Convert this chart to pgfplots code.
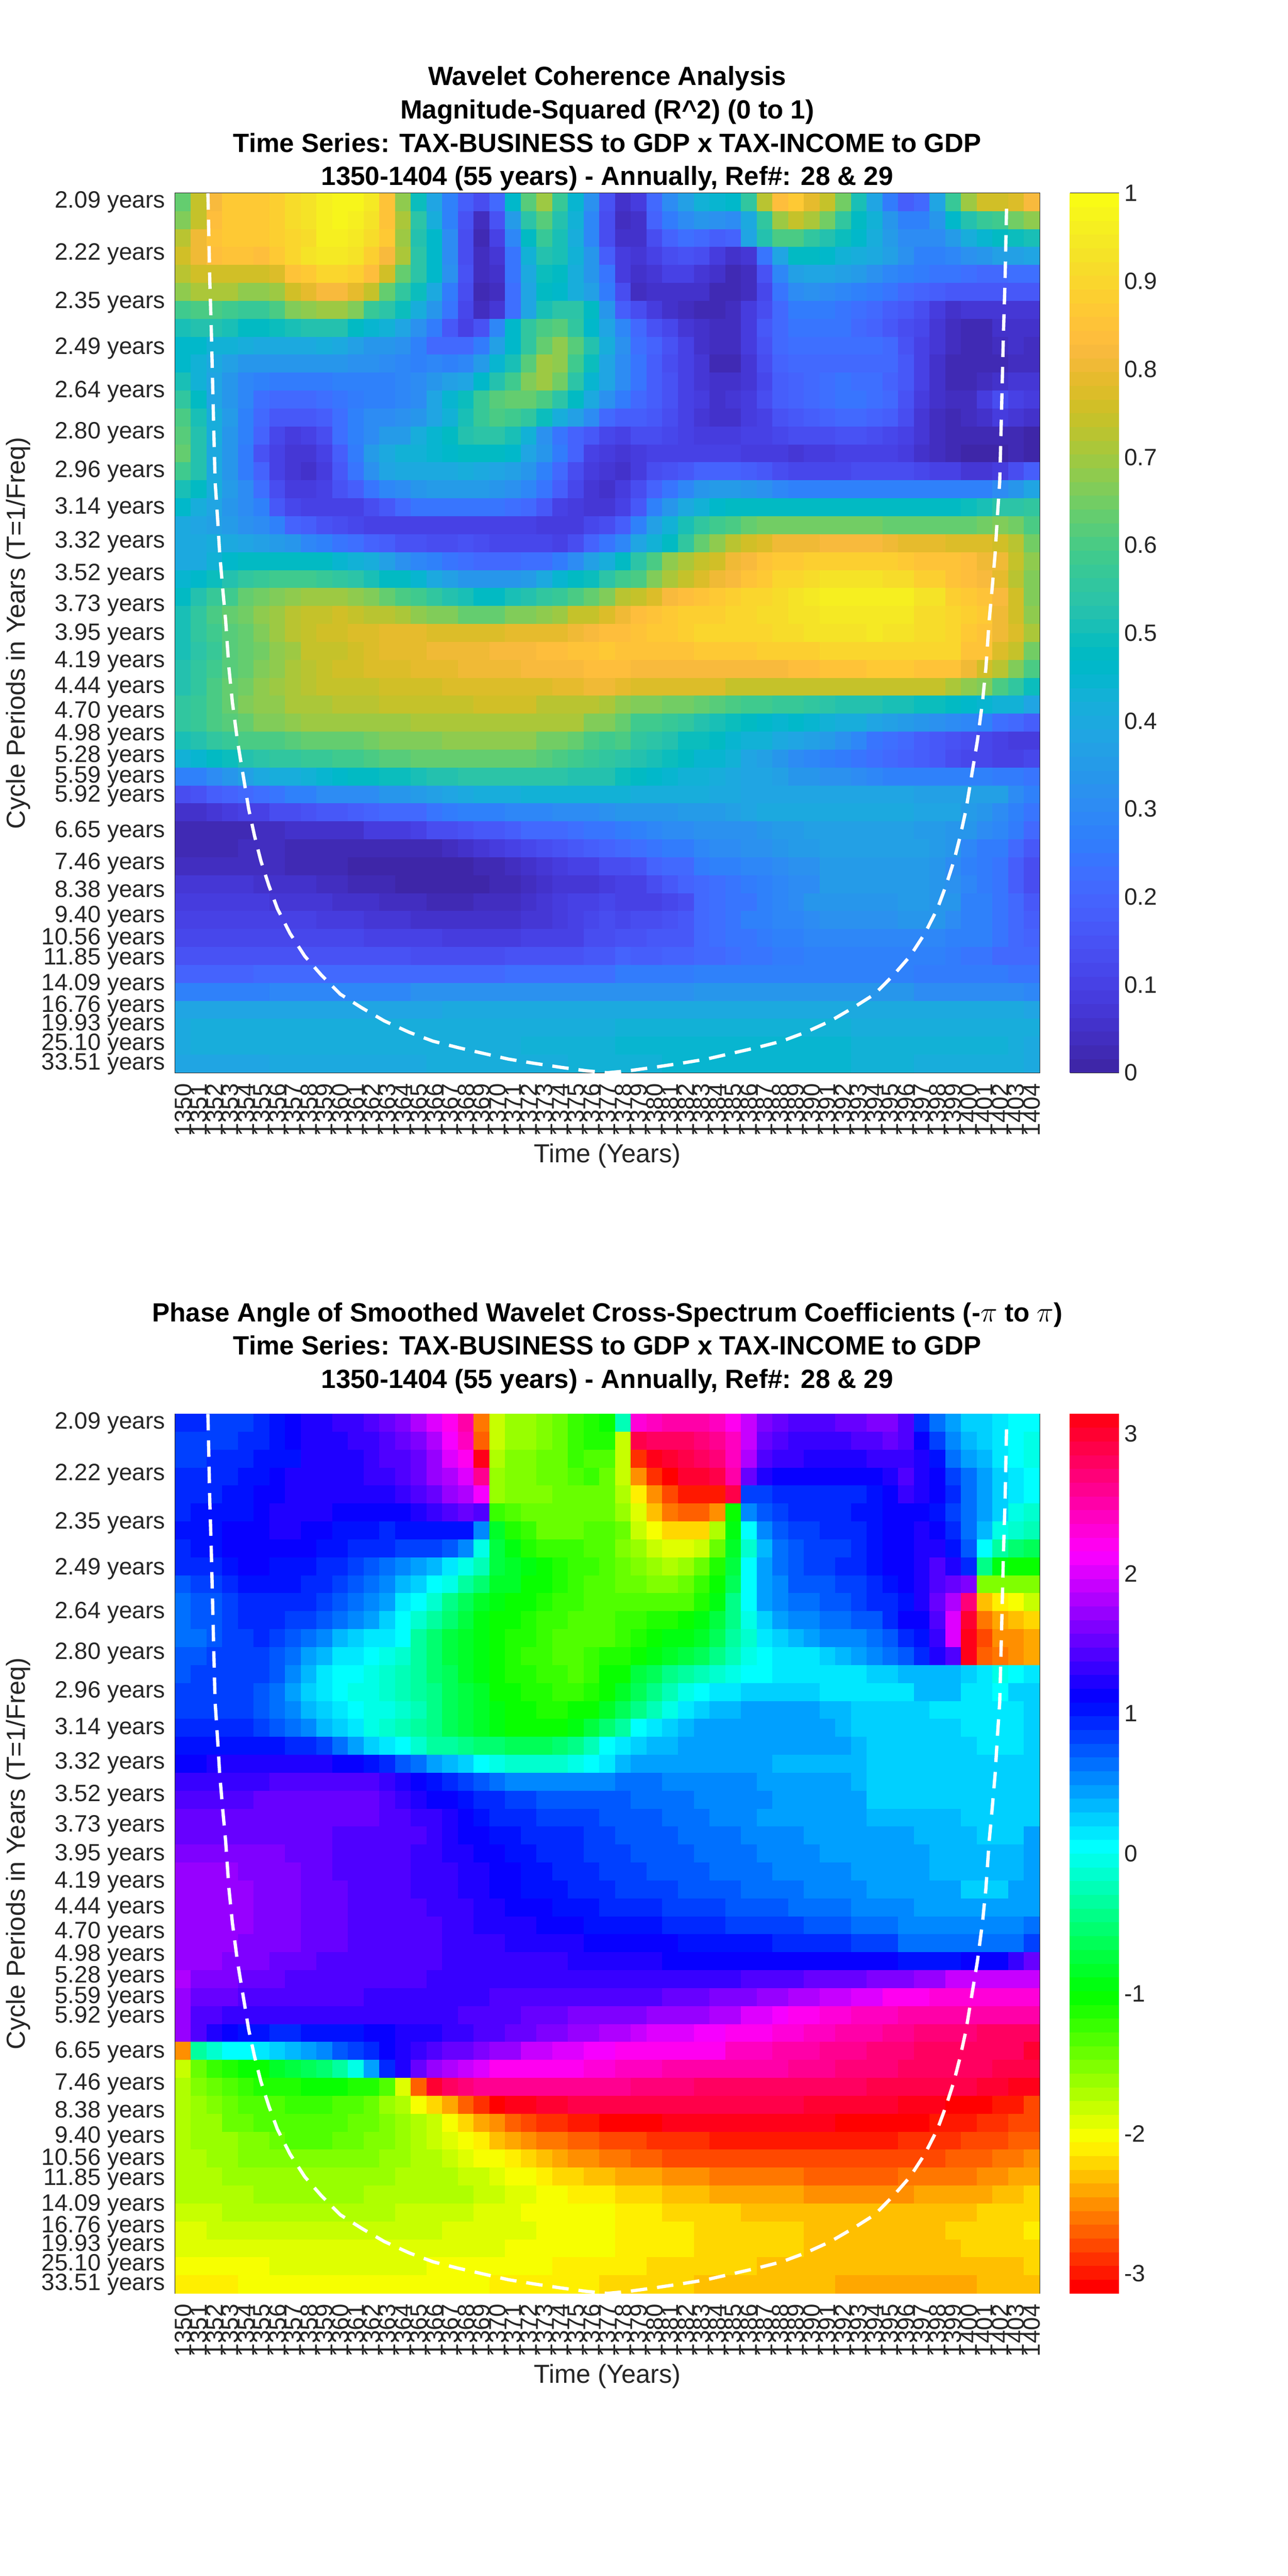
\documentclass[border=0pt]{standalone}
\usepackage{pgfplots}
\pgfplotsset{compat=1.18}
\usepackage{pgfplotstable}
\usepackage{fontspec}
\setmainfont{Liberation Sans}
\definecolor{axc}{RGB}{38,38,38}
\pgfdeclareplotmark{cell}{\pgfpathrectangle{\pgfqpoint{-4.85pt}{-5.53pt}}{\pgfqpoint{9.70pt}{11.06pt}}\pgfusepathqfill}
\pgfdeclareplotmark{bcell}{\pgfpathrectangle{\pgfqpoint{-15pt}{-4.25pt}}{\pgfqpoint{30pt}{8.5pt}}\pgfusepathqfill}
\pgfplotsset{
 colormap={par}{rgb=(.2422,.1504,.6603) rgb=(.2504,.1650,.7076) rgb=(.2578,.1818,.7511) rgb=(.2647,.1978,.7952) rgb=(.2706,.2147,.8364) rgb=(.2751,.2342,.8710) rgb=(.2783,.2559,.8991) rgb=(.2803,.2782,.9221) rgb=(.2813,.3006,.9414) rgb=(.2810,.3228,.9579) rgb=(.2795,.3447,.9717) rgb=(.2760,.3667,.9829) rgb=(.2699,.3892,.9906) rgb=(.2602,.4123,.9952) rgb=(.2440,.4358,.9988) rgb=(.2206,.4603,.9973) rgb=(.1963,.4847,.9892) rgb=(.1834,.5074,.9798) rgb=(.1786,.5289,.9682) rgb=(.1764,.5499,.9520) rgb=(.1687,.5703,.9359) rgb=(.1540,.5902,.9218) rgb=(.1460,.6091,.9079) rgb=(.1380,.6276,.8973) rgb=(.1248,.6459,.8883) rgb=(.1113,.6635,.8763) rgb=(.0952,.6798,.8598) rgb=(.0689,.6948,.8394) rgb=(.0297,.7082,.8163) rgb=(.0036,.7203,.7917) rgb=(.0067,.7312,.7660) rgb=(.0433,.7411,.7394) rgb=(.0964,.7500,.7120) rgb=(.1408,.7584,.6842) rgb=(.1717,.7670,.6554) rgb=(.1938,.7758,.6251) rgb=(.2161,.7843,.5923) rgb=(.2470,.7918,.5567) rgb=(.2906,.7973,.5188) rgb=(.3406,.8008,.4789) rgb=(.3909,.8029,.4354) rgb=(.4456,.8024,.3909) rgb=(.5044,.7993,.3480) rgb=(.5616,.7942,.3045) rgb=(.6174,.7876,.2612) rgb=(.6720,.7793,.2227) rgb=(.7242,.7698,.1910) rgb=(.7738,.7598,.1646) rgb=(.8203,.7498,.1535) rgb=(.8634,.7406,.1596) rgb=(.9035,.7330,.1774) rgb=(.9393,.7288,.2100) rgb=(.9728,.7298,.2394) rgb=(.9956,.7434,.2371) rgb=(.9970,.7659,.2199) rgb=(.9952,.7893,.2028) rgb=(.9892,.8136,.1885) rgb=(.9786,.8386,.1766) rgb=(.9676,.8639,.1643) rgb=(.9610,.8890,.1537) rgb=(.9597,.9135,.1423) rgb=(.9628,.9373,.1265) rgb=(.9691,.9606,.1064) rgb=(.9769,.9839,.0805)},
 colormap={hsvm}{rgb(0cm)=(1,0,0); rgb(1cm)=(1,1,0); rgb(2cm)=(0,1,0); rgb(3cm)=(0,1,1); rgb(4cm)=(0,0,1); rgb(5cm)=(1,0,1); rgb(6cm)=(1,0,0)},
 heat/.style={scale only axis,width=524.5pt,height=533.6pt,xmin=1349.5,xmax=1404.5,ymin=-0.5,ymax=48.5,y dir=reverse,
  axis on top,axis line style={axc,line width=.5pt},
  tick style={axc,line width=.5pt},tick align=inside,major tick length=5.2pt,
  tick label style={font=\fontsize{14.35}{14.35}\selectfont,text=axc},
  label style={font=\fontsize{15.8}{15.8}\selectfont,text=axc},
  xtick={1350,...,1404},
  xticklabels={1350,1351,1352,1353,1354,1355,1356,1357,1358,1359,1360,1361,1362,1363,1364,1365,1366,1367,1368,1369,1370,1371,1372,1373,1374,1375,1376,1377,1378,1379,1380,1381,1382,1383,1384,1385,1386,1387,1388,1389,1390,1391,1392,1393,1394,1395,1396,1397,1398,1399,1400,1401,1402,1403,1404},
  xticklabel style={yshift=-3pt,rotate=90,anchor=east},
  yticklabel style={xshift=-2.5pt},
  ytick={0,2.874,5.586,8.146,10.562,12.844,14.996,17.028,18.946,20.756,22.465,24.078,25.6,27.037,28.393,29.673,30.881,32.022,33.098,34.114,35.073,35.978,36.833,37.639,38.4,39.118,39.797,40.437,41.04,41.611,42.149,42.657,43.136,43.589,44.016,44.42,44.8,45.159,45.498,45.818,46.12,46.406,46.675,46.928,47.168,47.394,47.608,47.81,48},
  yticklabels={2.09 years,2.22 years,2.35 years,2.49 years,2.64 years,2.80 years,2.96 years,3.14 years,3.32 years,3.52 years,3.73 years,3.95 years,4.19 years,4.44 years,4.70 years,4.98 years,5.28 years,5.59 years,5.92 years,,6.65 years,,7.46 years,,8.38 years,,9.40 years,,10.56 years,,11.85 years,,,14.09 years,,,16.76 years,,,19.93 years,,,,25.10 years,,,,,33.51 years},
  xlabel={Time (Years)},ylabel={Cycle Periods in Years (T=1/Freq)},
  xlabel style={at={(axis description cs:0.5,-0.0942)},anchor=center},
  ylabel style={at={(axis description cs:-0.1816,0.5)},anchor=center},
 },
 over/.style={scale only axis,width=524.5pt,height=533.6pt,xmin=1349.5,xmax=1404.5,ymin=-0.5,ymax=48.5,y dir=reverse,hide axis},
 scat/.style={scatter,only marks,mark=cell,point meta=explicit,forget plot},
 coi/.style={white,line width=2pt,dash pattern=on 10pt off 6pt,forget plot},
 cb/.style={scale only axis,width=29pt,height=533.6pt,xmin=0,xmax=1,xtick=\empty,axis on top,axis line style={axc,line width=.5pt},
  ytick pos=right,yticklabel pos=right,tick align=inside,tick style={axc,line width=.5pt},major tick length=5.2pt,
  tick label style={font=\fontsize{14.35}{14.35}\selectfont,text=axc}},
}
% coherence R^2 and phase angle, as the level (0-63) of the 64-step colour scale
\pgfplotstableread[header=false]{
40 47 52 55 55 55 56 58 59 61 62 62 60 54 43 31 24 17 11 8 13 29 39 44 36 28 20 9 3 5 13 19 23 27 28 29 35 46 53 55 50 47 41 32 24 16 11 13 24 36 44 48 48 49 52
42 47 53 55 55 55 56 58 59 61 62 61 59 54 45 34 26 17 9 2 9 22 34 39 33 27 18 8 2 3 12 16 19 21 20 19 25 35 44 47 45 41 35 30 27 21 17 17 21 29 33 36 37 41 43
46 51 54 55 55 55 56 57 58 61 61 60 58 55 44 33 29 19 8 1 6 18 30 36 32 26 18 8 3 3 8 12 14 13 11 12 24 33 38 38 35 33 31 29 26 22 19 19 19 22 26 28 30 31 32
48 51 53 54 54 53 55 57 59 60 60 59 56 52 45 34 29 19 8 2 4 15 27 33 32 27 21 11 5 4 6 8 9 8 5 3 4 15 24 30 30 29 27 26 25 23 20 17 17 18 20 21 23 23 24
46 48 48 48 48 48 49 54 55 57 57 56 53 48 40 34 29 20 9 2 3 15 25 31 30 26 21 15 5 3 4 6 6 4 3 1 2 9 18 23 24 24 23 22 20 18 17 16 15 15 14 13 13 14 14
43 45 45 45 43 43 44 48 50 52 52 50 47 40 35 31 25 16 8 1 2 14 24 30 29 26 23 16 8 2 3 3 3 3 1 1 2 7 15 19 20 19 18 17 16 15 13 12 11 10 10 10 10 10 10
37 38 38 37 36 36 38 42 43 44 44 42 36 34 31 26 21 15 7 2 4 14 24 32 34 34 30 21 11 8 5 3 2 1 1 2 5 8 13 16 16 16 15 14 13 11 10 8 5 3 4 4 4 4 4
32 33 33 32 30 30 31 32 33 33 33 30 28 27 24 20 16 10 6 9 18 29 35 38 39 35 29 24 18 13 9 7 4 3 2 2 5 10 13 15 15 15 15 13 12 10 8 7 4 2 1 1 3 3 3
29 29 27 27 26 25 25 25 25 26 25 23 21 21 20 17 13 13 13 16 23 29 35 40 43 39 33 26 20 14 12 9 6 3 2 2 5 9 13 14 14 14 14 14 14 13 9 6 4 2 1 1 2 3 2
29 27 25 23 21 21 21 21 21 21 21 20 20 19 18 17 18 17 18 22 28 32 39 44 43 37 31 24 19 15 11 8 6 4 1 1 4 8 12 13 13 13 13 13 13 13 10 6 3 1 1 1 1 2 2
32 27 24 21 18 17 16 16 16 16 17 17 17 17 18 19 21 23 24 29 33 37 42 44 41 34 28 24 19 15 11 9 6 4 3 3 4 7 11 12 13 14 15 14 14 12 10 6 3 1 1 2 3 4 4
35 30 24 21 18 14 13 13 13 14 15 16 17 17 18 19 24 28 31 36 39 40 40 38 34 30 25 20 16 13 11 9 6 5 3 4 5 8 11 12 13 14 15 15 14 13 9 5 3 2 2 5 8 6 5
38 32 26 22 17 13 10 10 10 11 14 17 19 19 20 21 24 27 32 36 38 37 35 31 26 23 19 13 11 11 10 8 6 4 3 3 5 6 9 10 11 12 13 13 12 11 8 4 2 1 2 3 5 4 3
39 33 26 21 17 12 7 5 6 8 14 17 19 22 22 26 28 30 33 34 34 32 27 20 15 12 10 7 6 8 8 7 6 5 5 5 6 6 7 8 8 8 9 9 8 7 6 4 2 1 1 1 1 1 0
40 33 25 21 16 9 6 4 4 6 11 16 22 25 27 27 28 29 30 30 30 29 24 21 16 12 6 5 4 5 6 6 6 6 6 6 5 5 5 4 5 5 6 6 6 6 5 3 2 1 0 0 0 1 0
37 33 25 21 16 12 6 4 3 5 10 15 20 24 25 25 25 25 26 25 24 23 21 17 13 8 5 4 3 5 8 9 10 12 12 12 11 10 8 7 7 7 7 8 8 8 8 7 6 6 4 4 5 8 11
32 30 26 22 19 14 8 5 5 6 9 11 15 18 19 21 22 22 22 22 21 20 18 15 11 7 4 3 5 8 12 15 18 21 22 22 21 20 18 17 17 17 17 17 17 17 17 17 17 17 17 17 19 21 24
29 26 24 21 19 17 10 7 6 6 6 6 8 10 13 15 15 15 15 15 15 14 13 10 6 5 4 4 6 10 17 21 25 27 29 30 30 30 30 30 30 30 30 30 30 30 30 30 30 30 31 32 34 34 35
25 24 23 22 20 19 17 12 11 9 8 7 6 6 6 6 6 6 6 6 6 6 6 5 5 5 7 8 11 17 23 27 32 35 37 38 40 41 41 41 41 41 41 41 41 40 40 40 40 40 40 41 42 41 38
25 25 26 25 24 23 22 21 18 17 15 14 12 11 9 9 8 8 9 8 7 7 7 7 6 8 12 15 18 24 27 30 35 40 43 46 48 49 51 51 51 52 52 52 52 51 50 50 50 49 49 49 48 46 41
25 25 27 29 30 30 30 30 30 30 28 27 26 23 20 18 17 15 14 13 13 13 14 14 16 19 23 26 30 34 38 43 45 47 48 51 52 54 55 55 56 56 56 56 56 56 55 54 54 54 53 51 51 47 43
28 29 31 33 35 36 37 37 37 36 35 34 32 30 30 28 25 23 21 21 21 21 22 25 28 30 31 34 37 38 42 45 47 49 51 52 54 55 57 57 58 59 59 59 59 58 58 56 56 54 53 52 50 46 42
30 33 36 37 40 41 42 43 44 44 44 43 42 40 38 37 35 33 32 30 30 32 33 35 36 38 40 42 46 47 49 52 53 54 55 56 57 57 58 59 60 61 61 61 61 61 61 59 59 56 55 54 52 48 42
32 35 38 40 41 43 44 46 47 47 48 47 46 46 45 43 42 42 40 40 40 42 42 43 44 47 47 49 51 53 54 55 56 56 56 57 57 58 58 59 59 60 60 60 60 60 60 58 58 57 56 55 51 48 43
32 35 37 39 40 42 44 46 47 48 48 49 49 50 50 50 49 49 49 49 49 50 50 50 50 51 52 53 53 54 55 55 56 57 57 57 57 57 58 58 59 59 59 59 60 59 59 58 58 57 55 54 51 49 45
32 34 36 39 40 41 43 44 47 47 47 48 49 50 50 50 51 51 51 51 52 52 52 53 53 54 54 55 54 54 54 54 54 55 55 55 55 56 56 56 56 57 57 57 57 57 57 57 57 57 54 54 49 47 41
33 35 37 39 40 42 43 45 46 47 48 48 49 49 49 50 50 50 51 51 51 51 52 52 52 52 53 53 53 52 52 52 52 52 52 52 52 52 52 53 53 54 54 54 55 55 55 54 54 54 51 48 46 42 38
33 35 38 40 41 43 44 45 46 47 47 47 47 48 48 48 48 49 49 49 49 49 49 49 50 50 51 51 50 49 49 49 49 49 49 47 47 47 47 47 47 47 47 47 47 47 47 47 47 45 43 42 38 35 31
35 36 38 40 42 43 43 45 45 45 46 46 46 47 47 47 47 47 47 48 48 48 48 46 46 46 46 45 43 42 42 41 41 40 39 38 37 37 36 36 35 34 33 33 33 32 32 31 31 30 29 28 27 27 24
35 36 38 39 40 42 42 43 44 44 44 44 44 44 44 45 45 45 45 45 45 45 45 45 45 45 42 42 40 37 37 36 35 33 32 31 30 29 28 29 28 27 26 26 24 23 22 21 20 19 18 17 14 13 11
32 33 35 36 38 38 38 39 40 40 40 40 41 42 42 42 42 43 43 43 43 43 43 41 41 40 38 37 38 35 34 33 31 31 30 28 27 27 25 24 23 22 20 18 15 14 13 11 10 9 8 7 6 5 5
27 28 30 31 33 34 35 35 36 36 37 37 38 39 39 40 40 40 40 40 40 40 40 39 38 37 36 35 34 33 32 31 30 28 28 27 24 23 21 19 18 17 16 15 14 13 12 11 10 8 7 7 6 6 7
17 17 19 21 23 25 26 26 27 28 29 30 30 31 31 32 33 33 34 34 34 34 34 34 34 33 33 33 31 30 29 28 27 27 26 25 24 24 23 21 21 20 20 19 18 17 17 17 17 17 17 17 16 16 15
8 9 11 12 13 14 15 17 17 19 19 19 19 21 21 22 23 24 25 26 26 26 27 27 27 27 27 27 27 26 26 26 26 26 25 25 24 24 24 24 24 24 24 24 24 24 24 23 23 23 23 23 23 19 17
3 3 4 5 6 6 8 8 9 10 10 11 12 13 13 13 15 16 17 17 17 18 18 18 19 19 19 20 21 21 21 21 22 22 22 23 24 25 25 25 25 25 25 25 25 25 25 24 24 24 22 21 19 17 15
1 1 1 1 1 2 2 3 3 3 3 3 5 5 5 6 8 8 9 10 10 11 13 13 13 14 15 15 16 17 18 19 19 20 20 20 20 21 22 22 23 23 23 23 23 23 23 22 22 21 21 19 18 16 13
1 1 1 1 2 2 2 1 1 1 1 1 1 1 1 1 1 2 3 4 5 6 7 8 9 10 11 12 13 14 15 16 16 18 19 19 20 20 21 22 22 23 23 23 23 23 23 23 22 21 18 16 16 13 10
2 2 2 2 2 2 2 1 1 1 1 0 0 0 0 0 0 0 0 1 1 2 3 4 5 6 6 8 8 9 12 13 13 16 17 17 18 18 19 20 20 22 22 22 22 22 22 22 21 19 17 16 15 11 8
4 4 4 4 4 3 3 3 3 2 2 1 1 1 0 0 0 0 0 0 1 1 2 3 4 4 4 5 6 6 8 10 12 13 14 15 16 17 18 19 19 22 22 22 22 22 22 22 21 20 18 16 15 11 8
5 5 5 5 5 5 4 4 4 4 3 3 3 2 2 2 1 1 1 2 2 2 3 4 5 6 6 7 6 6 6 7 8 13 14 15 15 17 18 19 21 21 21 21 21 21 22 22 21 21 17 17 15 13 10
6 6 6 6 6 6 6 6 6 5 5 5 4 4 4 3 3 3 3 3 3 3 4 4 5 6 7 8 7 8 8 9 10 13 14 15 17 17 18 18 19 20 20 20 20 20 21 21 21 19 17 17 15 13 11
7 7 7 7 7 7 7 7 7 7 7 7 6 6 6 6 6 5 5 5 5 5 6 6 6 6 8 8 9 9 10 10 10 13 14 15 15 16 17 17 18 18 18 18 18 18 18 18 18 17 17 17 15 13 12
9 9 9 9 9 9 9 9 9 9 9 9 9 9 9 8 8 8 8 8 8 9 9 9 9 9 10 10 12 11 11 12 12 13 13 14 15 15 16 16 17 17 17 17 17 17 17 17 17 16 15 15 13 13 13
12 12 12 12 12 13 13 13 13 13 13 13 13 13 13 13 13 13 13 13 13 14 14 14 14 14 14 14 16 16 16 16 16 17 17 17 17 17 17 17 17 17 17 17 17 17 17 16 16 16 16 16 16 15 15
17 17 17 17 17 17 18 18 18 18 18 18 18 18 18 20 20 20 20 20 20 20 20 20 20 20 20 20 20 20 20 20 20 21 21 21 21 21 21 21 21 21 21 21 21 21 21 19 19 19 19 19 19 19 18
24 24 24 24 24 24 24 24 24 24 24 24 24 24 24 24 24 25 25 25 25 25 25 25 25 25 25 25 25 25 25 25 25 25 25 25 25 25 25 25 25 25 25 25 25 25 25 25 25 25 25 25 25 25 24
25 26 26 26 26 26 26 26 26 26 26 26 26 26 26 26 26 26 26 26 26 26 26 26 26 26 26 26 27 27 27 27 27 27 27 27 27 27 27 27 27 27 27 26 26 26 26 26 26 26 26 26 26 26 26
25 26 26 26 26 26 26 26 26 26 26 26 26 26 26 26 26 26 26 26 26 26 27 27 27 27 27 27 28 28 28 28 28 28 28 28 28 28 28 28 28 28 28 27 27 27 27 27 27 27 27 27 27 26 25
24 24 24 24 24 24 25 25 25 25 25 25 25 25 25 25 26 26 26 26 26 26 26 26 26 27 27 27 27 27 27 28 28 28 28 28 28 28 28 28 28 28 28 27 27 27 27 26 26 26 26 26 26 26 25
}\coh
\pgfplotstableread[header=false]{
41 41 40 40 40 41 42 43 44 44 45 45 46 47 48 50 52 54 57 5 13 15 15 16 17 19 20 21 29 55 56 57 57 57 56 54 51 48 47 46 46 46 47 47 48 48 46 41 38 36 34 34 33 32 32
40 40 40 40 41 41 42 43 44 44 44 45 45 46 47 48 50 53 56 4 13 15 15 16 17 19 20 20 13 61 60 60 60 59 58 56 51 47 46 45 45 45 45 46 46 47 46 43 40 37 35 34 33 32 31
40 40 41 41 41 42 42 42 44 44 44 44 45 46 46 47 49 52 54 63 14 16 16 17 17 19 18 18 13 2 63 62 61 60 59 56 50 46 45 45 44 44 44 44 45 45 45 44 42 38 36 35 33 32 31
41 41 41 41 42 42 43 44 44 44 44 44 45 45 46 47 49 50 52 58 15 16 16 17 17 18 19 17 13 6 2 0 62 62 61 57 47 44 43 43 43 43 43 43 43 44 46 44 43 40 38 36 34 33 32
41 41 41 42 42 43 43 44 44 44 44 44 44 44 45 46 47 49 50 53 15 16 16 16 17 17 17 17 14 10 6 3 1 1 1 61 40 40 41 41 41 41 41 41 42 43 45 44 43 41 38 36 34 33 32
41 42 42 42 42 43 44 44 44 44 43 43 43 43 43 44 45 46 47 46 19 18 17 17 17 17 17 17 15 12 8 5 4 4 6 21 37 39 40 41 41 41 41 42 42 43 43 43 42 40 38 36 34 31 30
42 42 42 43 43 43 44 44 43 43 42 42 42 41 42 42 42 42 42 37 23 20 19 17 17 17 18 18 17 13 11 9 9 9 14 22 32 37 39 40 40 41 41 41 42 43 43 44 43 41 38 35 31 30 29
41 42 42 43 43 43 43 43 43 42 42 41 41 41 40 40 40 39 37 31 24 22 20 19 19 19 18 18 16 15 13 12 12 13 17 23 30 35 38 39 40 40 40 41 42 43 43 44 44 42 39 32 28 26 25
41 41 41 42 43 43 42 42 42 41 41 40 39 38 37 36 35 33 31 29 24 23 22 21 20 19 19 18 17 16 15 14 15 17 20 24 32 36 38 39 40 40 41 41 42 43 43 44 46 44 41 27 22 21 21
39 40 40 41 42 42 42 42 41 41 40 39 38 37 35 34 32 31 28 26 23 23 21 21 20 19 18 18 17 17 16 16 17 19 21 25 32 36 37 39 39 39 40 40 41 42 43 44 46 47 48 16 16 16 16
38 39 39 40 41 41 41 41 41 40 39 38 37 36 33 32 30 27 25 23 22 21 21 20 19 19 18 18 18 18 18 18 18 20 22 27 32 36 37 38 38 39 39 40 41 41 42 44 47 50 59 8 10 11 13
38 39 39 40 41 41 41 40 40 39 38 37 36 34 32 30 28 26 24 22 21 21 20 19 19 18 18 18 19 19 20 20 21 22 24 27 31 34 36 37 37 38 38 39 39 41 43 43 46 52 62 5 7 8 9
38 38 39 40 40 41 40 39 38 37 35 34 33 33 32 28 26 24 23 22 21 20 20 19 18 18 18 18 19 20 21 22 22 23 25 28 30 33 34 35 36 37 37 37 38 39 41 42 45 52 63 3 6 6 7
39 39 40 40 40 40 39 38 36 35 33 33 32 31 30 28 26 24 23 22 21 20 19 19 18 18 19 20 20 21 22 23 24 25 27 29 31 32 33 33 33 34 35 36 37 38 39 41 44 46 63 4 5 6 7
39 40 40 40 40 40 39 37 35 33 32 32 31 30 29 28 26 25 23 22 21 20 20 19 19 18 19 21 21 24 25 27 28 29 30 31 32 32 33 33 33 33 33 33 34 34 35 35 35 35 34 33 31 32 33
40 40 40 40 40 39 38 36 34 33 32 31 31 30 29 28 27 25 24 23 21 21 20 20 19 19 20 21 23 25 27 29 31 32 33 33 34 34 34 34 34 33 33 33 33 33 33 35 35 35 33 33 32 34 34
40 40 40 40 40 39 38 37 35 34 33 32 31 31 30 29 27 25 24 23 22 21 21 20 20 21 21 23 25 27 29 31 33 34 35 35 36 36 36 36 36 35 35 34 34 34 34 34 33 33 33 33 33 33 34
41 41 41 41 41 40 39 38 37 35 34 33 31 30 29 28 27 25 24 23 22 21 21 21 21 22 24 26 28 32 33 34 35 36 36 36 36 36 36 36 36 36 35 34 34 34 34 34 34 34 33 33 33 33 34
42 42 42 42 42 42 42 41 41 40 38 36 34 33 32 30 28 28 27 26 26 25 25 25 26 27 29 32 33 34 35 35 36 36 36 36 36 36 36 36 36 36 36 35 34 34 34 34 34 34 34 33 33 33 34
43 43 44 44 44 44 44 44 44 44 43 43 42 41 39 38 36 35 34 32 31 30 30 30 30 31 32 33 35 36 36 36 36 36 36 36 36 36 35 35 35 35 35 35 34 34 34 34 34 34 34 34 34 34 34
45 45 45 45 45 45 46 46 46 46 46 46 46 45 44 43 42 41 40 39 38 37 37 37 37 37 37 37 38 38 38 37 37 37 37 37 37 36 36 36 36 36 36 35 34 34 34 34 34 34 34 34 34 34 34
46 46 46 46 46 47 47 47 47 47 47 47 47 46 45 44 43 43 42 41 41 40 40 39 39 39 39 39 39 38 38 38 38 37 37 37 37 37 36 36 36 36 36 36 34 34 34 34 34 34 34 34 34 34 34
47 47 47 47 47 47 47 47 47 47 47 47 47 46 46 45 45 44 43 42 41 41 41 40 40 40 40 39 39 39 39 38 38 38 37 37 37 36 36 36 36 36 36 36 35 35 35 35 35 35 34 34 34 34 34
47 47 47 47 47 47 47 47 47 47 46 46 46 46 46 46 45 44 43 43 42 42 41 41 41 41 40 40 39 39 39 39 38 38 38 38 37 37 37 37 36 36 36 36 36 36 36 35 35 35 35 34 34 34 36
48 48 48 48 48 48 48 47 47 47 46 46 46 46 46 45 45 44 44 43 43 42 42 41 41 41 40 40 40 39 39 39 39 38 38 38 38 37 37 37 37 36 36 36 36 36 36 36 35 35 35 35 35 35 36
49 49 49 49 48 48 48 48 47 47 46 46 46 46 46 45 45 45 44 44 43 43 42 42 41 41 41 40 40 40 39 39 39 39 38 38 38 38 37 37 37 37 37 36 36 36 36 36 35 35 35 35 35 35 36
49 49 49 49 49 48 48 48 47 47 47 46 46 46 46 45 45 45 44 44 43 43 42 42 42 41 41 41 40 40 40 40 39 39 39 39 38 38 38 38 37 37 37 37 36 36 36 36 36 36 34 34 34 36 36
49 49 49 49 49 48 48 48 47 47 47 46 46 46 46 46 45 45 45 44 44 43 43 43 42 42 42 41 41 41 41 40 40 40 40 39 39 39 39 38 38 38 38 37 37 37 37 36 36 36 36 36 36 36 36
49 49 49 49 49 48 48 48 47 47 47 46 46 46 46 46 46 45 45 44 44 44 44 43 43 43 42 42 42 42 42 41 41 41 41 40 40 40 40 40 39 39 39 38 38 38 37 37 37 37 37 37 37 37 38
49 49 49 49 48 48 48 48 47 47 47 46 46 46 46 46 46 45 45 45 45 44 44 44 44 44 43 43 43 43 43 43 42 42 42 42 42 42 41 41 41 41 41 40 40 40 38 38 38 38 38 38 38 38 40
49 49 49 48 48 48 47 47 47 46 46 46 46 46 46 46 46 45 45 45 45 45 45 45 45 44 44 44 44 44 44 43 43 43 43 43 43 43 43 43 43 43 43 43 43 43 42 42 42 42 43 43 43 45 47
50 48 48 48 47 47 47 46 46 46 46 46 46 46 46 46 45 45 45 45 45 45 45 45 45 45 45 45 45 45 45 45 45 45 45 45 46 46 46 46 47 47 47 47 48 48 48 49 49 51 51 51 51 51 51
49 47 47 47 46 46 46 46 46 46 46 46 45 45 45 45 45 45 45 45 46 46 46 46 46 46 46 46 46 46 46 47 47 47 48 48 48 49 49 50 50 51 51 52 52 54 54 54 55 55 55 55 55 55 55
49 46 46 45 45 45 45 45 45 45 45 45 45 45 45 45 45 45 46 46 46 46 47 47 47 48 48 48 48 48 49 49 49 49 50 50 52 52 53 54 54 55 55 56 56 56 57 57 57 57 57 57 57 57 57
49 46 44 43 42 42 41 41 42 42 42 42 43 43 44 44 44 45 45 46 46 47 47 48 48 49 49 50 50 51 52 52 52 53 53 54 54 54 55 55 56 56 57 57 57 58 58 59 59 59 59 60 60 60 60
6 28 30 32 32 33 34 35 36 37 39 40 41 43 44 45 46 47 47 48 49 49 51 51 52 52 53 53 54 54 54 54 54 54 54 56 56 56 57 57 57 58 58 58 59 59 59 60 60 60 60 60 60 60 62
13 17 19 20 21 21 23 24 25 26 28 31 36 41 44 47 49 50 51 52 54 54 54 54 54 54 55 55 56 56 56 57 57 57 57 57 57 57 57 58 58 58 59 59 59 59 60 60 60 60 60 60 61 61 61
14 16 17 18 19 20 20 20 21 21 21 20 20 18 12 4 62 60 59 58 58 58 58 58 58 58 58 58 58 59 59 59 59 60 60 60 60 60 60 60 60 60 60 60 61 61 61 61 61 61 61 62 62 63 63
14 15 16 17 18 18 18 19 19 19 18 18 17 15 14 11 9 7 4 2 0 63 63 62 62 61 61 61 61 61 61 61 61 61 61 61 61 61 61 61 62 62 62 62 62 62 63 63 63 0 0 0 1 1 3
14 15 15 17 17 18 18 18 18 18 18 17 17 16 15 14 13 11 9 7 6 4 3 2 2 1 1 0 0 0 0 63 63 63 63 63 63 63 63 63 63 63 0 0 0 0 0 0 1 1 1 2 2 3 3
14 15 15 15 16 16 17 18 18 18 17 17 16 16 15 14 13 12 11 10 8 7 6 5 5 4 4 3 3 3 2 2 2 2 1 1 1 1 1 1 1 1 1 1 1 1 2 2 2 2 3 3 3 4 4
14 14 15 15 16 16 16 16 16 16 16 16 16 15 15 14 14 13 12 11 11 10 9 8 7 6 6 5 5 4 4 3 3 3 3 3 3 3 3 3 3 3 3 3 3 3 3 3 3 4 4 4 5 5 6
14 14 14 15 15 15 15 15 15 15 15 15 15 15 14 14 14 14 13 13 12 11 11 10 9 9 8 8 7 7 7 6 6 6 5 5 5 5 5 5 4 4 4 4 4 4 5 5 5 5 5 6 6 7 7
14 14 14 14 14 15 15 15 15 15 15 15 14 14 14 14 14 14 14 13 13 12 12 11 11 10 10 10 9 9 9 8 8 8 7 7 7 7 7 7 6 6 6 6 6 6 6 7 7 7 7 7 8 8 9
13 13 13 14 14 14 14 14 14 14 14 14 14 14 13 13 13 13 13 12 12 12 11 11 11 11 11 11 10 10 10 9 9 9 9 9 8 8 8 8 8 8 8 8 8 8 8 8 8 8 8 9 9 9 9
12 12 13 13 13 13 13 13 13 13 13 13 13 13 13 13 13 12 12 12 12 12 12 11 11 11 11 11 10 10 10 10 10 9 9 9 9 9 9 9 8 8 8 8 8 8 8 8 8 9 9 9 9 9 10
12 12 12 12 12 12 12 12 12 12 12 12 12 12 12 12 12 12 12 12 12 11 11 11 11 11 11 11 10 10 10 10 10 9 9 9 9 9 9 9 8 8 8 8 8 8 8 8 8 8 9 9 9 9 9
11 11 11 11 11 11 12 12 12 12 12 12 12 12 12 12 11 11 11 11 11 11 11 11 10 10 10 10 10 10 9 9 9 9 9 9 9 8 8 8 8 8 8 8 8 8 8 8 8 8 8 8 8 8 9
10 10 10 10 11 11 11 11 11 11 11 11 11 11 11 11 11 11 11 11 10 10 10 10 10 10 10 9 9 9 9 9 9 8 8 8 8 8 8 8 8 8 7 7 7 7 7 7 7 7 7 8 8 8 8
}\pha
\pgfplotstableread{
l m
0 0
1 1
2 2
3 3
4 4
5 5
6 6
7 7
8 8
9 9
10 10
11 11
12 12
13 13
14 14
15 15
16 16
17 17
18 18
19 19
20 20
21 21
22 22
23 23
24 24
25 25
26 26
27 27
28 28
29 29
30 30
31 31
32 32
33 33
34 34
35 35
36 36
37 37
38 38
39 39
40 40
41 41
42 42
43 43
44 44
45 45
46 46
47 47
48 48
49 49
50 50
51 51
52 52
53 53
54 54
55 55
56 56
57 57
58 58
59 59
60 60
61 61
62 62
63 63
}\lev
\pgfplotstableread{
yr row
1351.58 -0.5
1351.6 0.17
1351.7 4.35
1351.8 7.2
1351.88 10.05
1351.96 12.9
1352.04 15.56
1352.2 17.66
1352.33 19.56
1352.52 21.5
1352.71 23.3
1352.92 25.96
1353.14 27.87
1353.46 30
1353.86 32.12
1354.18 33.82
1354.55 35.31
1354.95 36.69
1355.46 38.07
1356 39.35
1356.8 40.73
1357.74 42
1358.8 43.06
1360 44.12
1361.35 44.87
1362.8 45.61
1364.4 46.25
1365.9 46.74
1367.5 47.1
1369.1 47.42
1370.7 47.74
1372.3 47.97
1374.05 48.2
1375.65 48.39
1377 48.5
1378.35 48.39
1379.95 48.2
1381.7 47.97
1383.3 47.74
1384.9 47.42
1386.5 47.1
1388.1 46.74
1389.6 46.25
1391.2 45.61
1392.65 44.87
1394 44.12
1395.2 43.06
1396.26 42
1397.2 40.73
1398 39.35
1398.54 38.07
1399.05 36.69
1399.45 35.31
1399.82 33.82
1400.14 32.12
1400.54 30
1400.86 27.87
1401.08 25.96
1401.29 23.3
1401.48 21.5
1401.67 19.56
1401.8 17.66
1401.96 15.56
1402.04 12.9
1402.12 10.05
1402.2 7.2
1402.3 4.35
1402.4 0.17
}\coiline
\begin{document}
\begin{tikzpicture}[x=1pt,y=1pt]
\path[use as bounding box] (0,0) rectangle (781.25,1563);
\path[fill=white] (0,0) rectangle (781.25,1563);
\begin{axis}[heat,at={(106.3pt,912.1pt)},anchor=south west,colormap name=par,point meta min=0,point meta max=63]
\pgfplotsinvokeforeach{0,...,54}{\addplot[scat] table[x expr=1350+#1,y expr=\coordindex,meta index=#1]{\coh};}
\end{axis}
\begin{axis}[over,at={(106.3pt,912.1pt)},anchor=south west]
\addplot[coi] table[x=yr,y=row]{\coiline};
\end{axis}
\begin{axis}[cb,at={(649.6pt,912.1pt)},anchor=south west,ymin=0,ymax=1,ytick={0,.1,.2,.3,.4,.5,.6,.7,.8,.9,1},yticklabels={0,0.1,0.2,0.3,0.4,0.5,0.6,0.7,0.8,0.9,1},colormap name=par,point meta min=0,point meta max=63]
\addplot[scatter,only marks,mark=bcell,point meta=explicit,forget plot] table[x expr=0.5,y expr={(\thisrow{l}+0.5)/64},meta=l]{\lev};
\end{axis}
\begin{axis}[heat,at={(106.3pt,171.5pt)},anchor=south west,colormap name=hsvm,point meta min=0,point meta max=64]
\pgfplotsinvokeforeach{0,...,54}{\addplot[scat] table[x expr=1350+#1,y expr=\coordindex,meta index=#1]{\pha};}
\end{axis}
\begin{axis}[over,at={(106.3pt,171.5pt)},anchor=south west]
\addplot[coi] table[x=yr,y=row]{\coiline};
\end{axis}
\begin{axis}[cb,at={(649.6pt,171.5pt)},anchor=south west,ymin=-3.14159,ymax=3.14159,ytick={-3,-2,-1,0,1,2,3},yticklabels={-3,-2,-1,0,1,2,3},colormap name=hsvm,point meta min=0,point meta max=64]
\addplot[scatter,only marks,mark=bcell,point meta=explicit,forget plot] table[x expr=0.5,y expr={-3.14159+(\thisrow{l}+0.5)/64*6.28318},meta=l]{\lev};
\end{axis}
\node[align=center,anchor=center,font=\fontsize{16}{20.25}\selectfont\bfseries] at (368.5,1485) {Wavelet Coherence Analysis\\Magnitude-Squared (R\textasciicircum 2) (0 to 1)\\Time Series: TAX-BUSINESS to GDP x TAX-INCOME to GDP\\1350-1404 (55 years) - Annually, Ref\#: 28 \& 29};
\node[align=center,anchor=center,font=\fontsize{16}{20.25}\selectfont\bfseries] at (368.5,745) {Phase Angle of Smoothed Wavelet Cross-Spectrum Coefficients (-$\pi$ to $\pi$)\\Time Series: TAX-BUSINESS to GDP x TAX-INCOME to GDP\\1350-1404 (55 years) - Annually, Ref\#: 28 \& 29};
\end{tikzpicture}
\end{document}
